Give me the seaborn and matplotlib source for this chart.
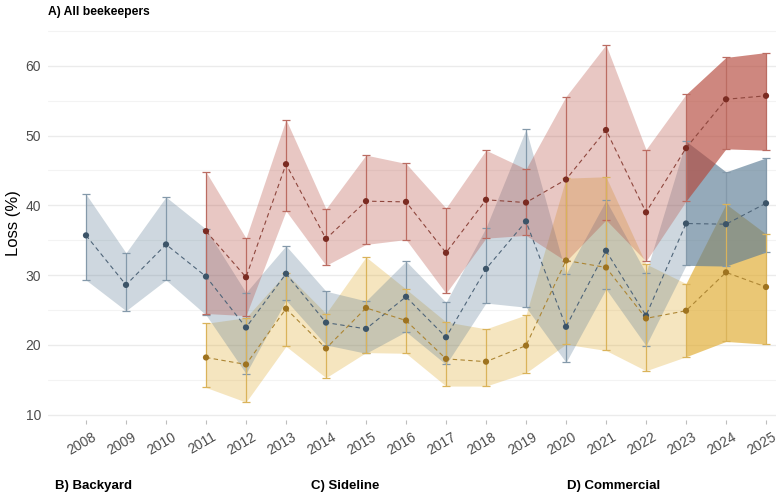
import matplotlib
matplotlib.use("Agg")
import matplotlib.pyplot as plt
from matplotlib.transforms import ScaledTranslation
import numpy as np
import pandas as pd
import seaborn as sns

# ---------------- data ----------------
years_all = list(range(2008, 2026))
years_sub = list(range(2011, 2026))

blue_mean = [35.7, 28.6, 34.4, 29.8, 22.5, 30.2, 23.2, 22.3, 26.9, 21.1, 30.9, 37.7, 22.6, 33.5, 24.2, 37.4, 37.3, 40.3]
blue_lo   = [29.3, 24.9, 29.3, 24.3, 15.9, 26.4, 20.0, 18.8, 21.9, 17.2, 26.0, 25.4, 17.5, 28.0, 19.9, 31.4, 31.3, 33.3]
blue_hi   = [41.6, 33.2, 41.2, 36.6, 27.5, 34.2, 27.7, 26.3, 32.0, 26.1, 36.8, 50.9, 30.2, 40.7, 30.3, 49.2, 44.8, 46.8]

red_mean = [36.3, 29.7, 45.9, 35.2, 40.6, 40.5, 33.2, 40.8, 40.4, 43.7, 50.8, 39.0, 48.2, 55.2, 55.7]
red_lo   = [24.5, 24.2, 39.2, 31.4, 34.4, 35.1, 27.4, 35.3, 35.7, 32.0, 37.9, 32.0, 40.6, 48.1, 47.9]
red_hi   = [44.8, 35.3, 52.3, 39.5, 47.2, 46.0, 39.6, 47.9, 45.2, 55.6, 63.0, 48.0, 55.9, 61.2, 61.9]

yel_mean = [18.2, 17.2, 25.2, 19.5, 25.3, 23.5, 18.0, 17.6, 19.9, 32.1, 31.1, 23.8, 24.9, 30.4, 28.3]
yel_lo   = [13.9, 11.8, 19.8, 15.3, 18.9, 18.8, 14.1, 14.1, 16.0, 20.1, 19.2, 16.3, 18.3, 20.5, 20.1]
yel_hi   = [23.1, 23.9, 30.3, 24.5, 32.6, 28.0, 23.3, 22.3, 24.3, 43.9, 44.1, 31.6, 28.8, 40.2, 35.9]

year_ticks = years_all
y_ticks = [10, 20, 30, 40, 50, 60]

groups = ["all", "commercial", "backyard"]
frames = [
    pd.DataFrame({"year": years_all, "loss": blue_mean, "lo": blue_lo, "hi": blue_hi, "group": "all"}),
    pd.DataFrame({"year": years_sub, "loss": red_mean, "lo": red_lo, "hi": red_hi, "group": "commercial"}),
    pd.DataFrame({"year": years_sub, "loss": yel_mean, "lo": yel_lo, "hi": yel_hi, "group": "backyard"}),
]
df = pd.concat(frames, ignore_index=True)

base_col = {"all": "#5d7d95", "commercial": "#b5473a", "backyard": "#e0aa2c"}
bar_col = {"all": "#8499aa", "commercial": "#bb6c62", "backyard": "#dab35a"}
line_col = {"all": "#4f6579", "commercial": "#8e463d", "backyard": "#ad8634"}
pt_col = {"all": "#3c5468", "commercial": "#7a2b22", "backyard": "#9e7320"}

# ---------------- figure ----------------
sns.set_theme(style="white")
plt.rcParams["font.family"] = ["Liberation Sans", "DejaVu Sans"]

fig = plt.figure(figsize=(7.78, 5.0), dpi=100)
ax = fig.add_axes([48 / 778, 80 / 500, 728 / 778, 393 / 500])

# ribbons
for g in ["backyard", "all", "commercial"]:
    d = df[df.group == g]
    early = d[d.year <= 2023]
    late = d[d.year >= 2023]
    ax.fill_between(early.year, early.lo, early.hi, color=base_col[g], alpha=0.3, lw=0, zorder=1)
    ax.fill_between(late.year, late.lo, late.hi, color=base_col[g], alpha=0.65, lw=0, zorder=1.5)

# error bars
for g in groups:
    d = df[df.group == g]
    ax.errorbar(d.year, d.loss, yerr=[d.loss - d.lo, d.hi - d.loss], fmt="none",
                ecolor=bar_col[g], elinewidth=0.9, capsize=3, capthick=0.9, zorder=3)

# dashed mean lines
sns.lineplot(data=df, x="year", y="loss", hue="group", palette=line_col, hue_order=groups,
             linewidth=0.8, linestyle=(0, (4, 3)), legend=False, errorbar=None, ax=ax, zorder=4)

# points
sns.scatterplot(data=df, x="year", y="loss", hue="group", palette=pt_col, hue_order=groups,
                s=20, edgecolor="none", linewidth=0, legend=False, ax=ax, zorder=5)

# axes styling
ax.set_xlim(2007.05, 2025.25)
ax.set_ylim(9.24, 65.56)
ax.set_yticks(y_ticks)
ax.set_yticks([15, 25, 35, 45, 55, 65], minor=True)
ax.set_xticks(year_ticks)
ax.set_xticklabels([str(y) for y in year_ticks])
ax.grid(False)
ax.grid(which="major", axis="y", color="#ebebeb", lw=1.0, zorder=0)
ax.grid(which="minor", axis="y", color="#f3f3f3", lw=0.8, zorder=0)
ax.set_axisbelow(True)
for s in ax.spines.values():
    s.set_visible(False)

ax.tick_params(axis="y", which="both", length=0, pad=5, labelsize=10, labelcolor="#4d4d4d")
ax.tick_params(axis="x", which="major", length=3, width=0.8, color="#bdbdbd", pad=4.0,
               labelsize=10, labelcolor="#4d4d4d", bottom=True)
offset = ScaledTranslation(6 / 100, 0, fig.dpi_scale_trans)
for lab in ax.get_xticklabels():
    lab.set_rotation(30)
    lab.set_ha("right")
    lab.set_va("top")
    lab.set_rotation_mode("anchor")
    lab.set_transform(lab.get_transform() + offset)

ax.set_xlabel("")
ax.set_ylabel("Loss (%)", fontsize=12, color="black", va="center")
ax.yaxis.set_label_coords(-34 / 728, 0.5)

fig.text(48 / 778, 1 - 12 / 500, "A) All beekeepers", fontsize=8.7, fontweight="bold",
         ha="left", va="center", color="black")
for xpx, txt in [(55, "B) Backyard"), (311, "C) Sideline"), (567, "D) Commercial")]:
    fig.text(xpx / 778, 1 - 486 / 500, txt, fontsize=9.5, fontweight="bold",
             ha="left", va="center", color="black")

fig.savefig("out.png", dpi=100)
